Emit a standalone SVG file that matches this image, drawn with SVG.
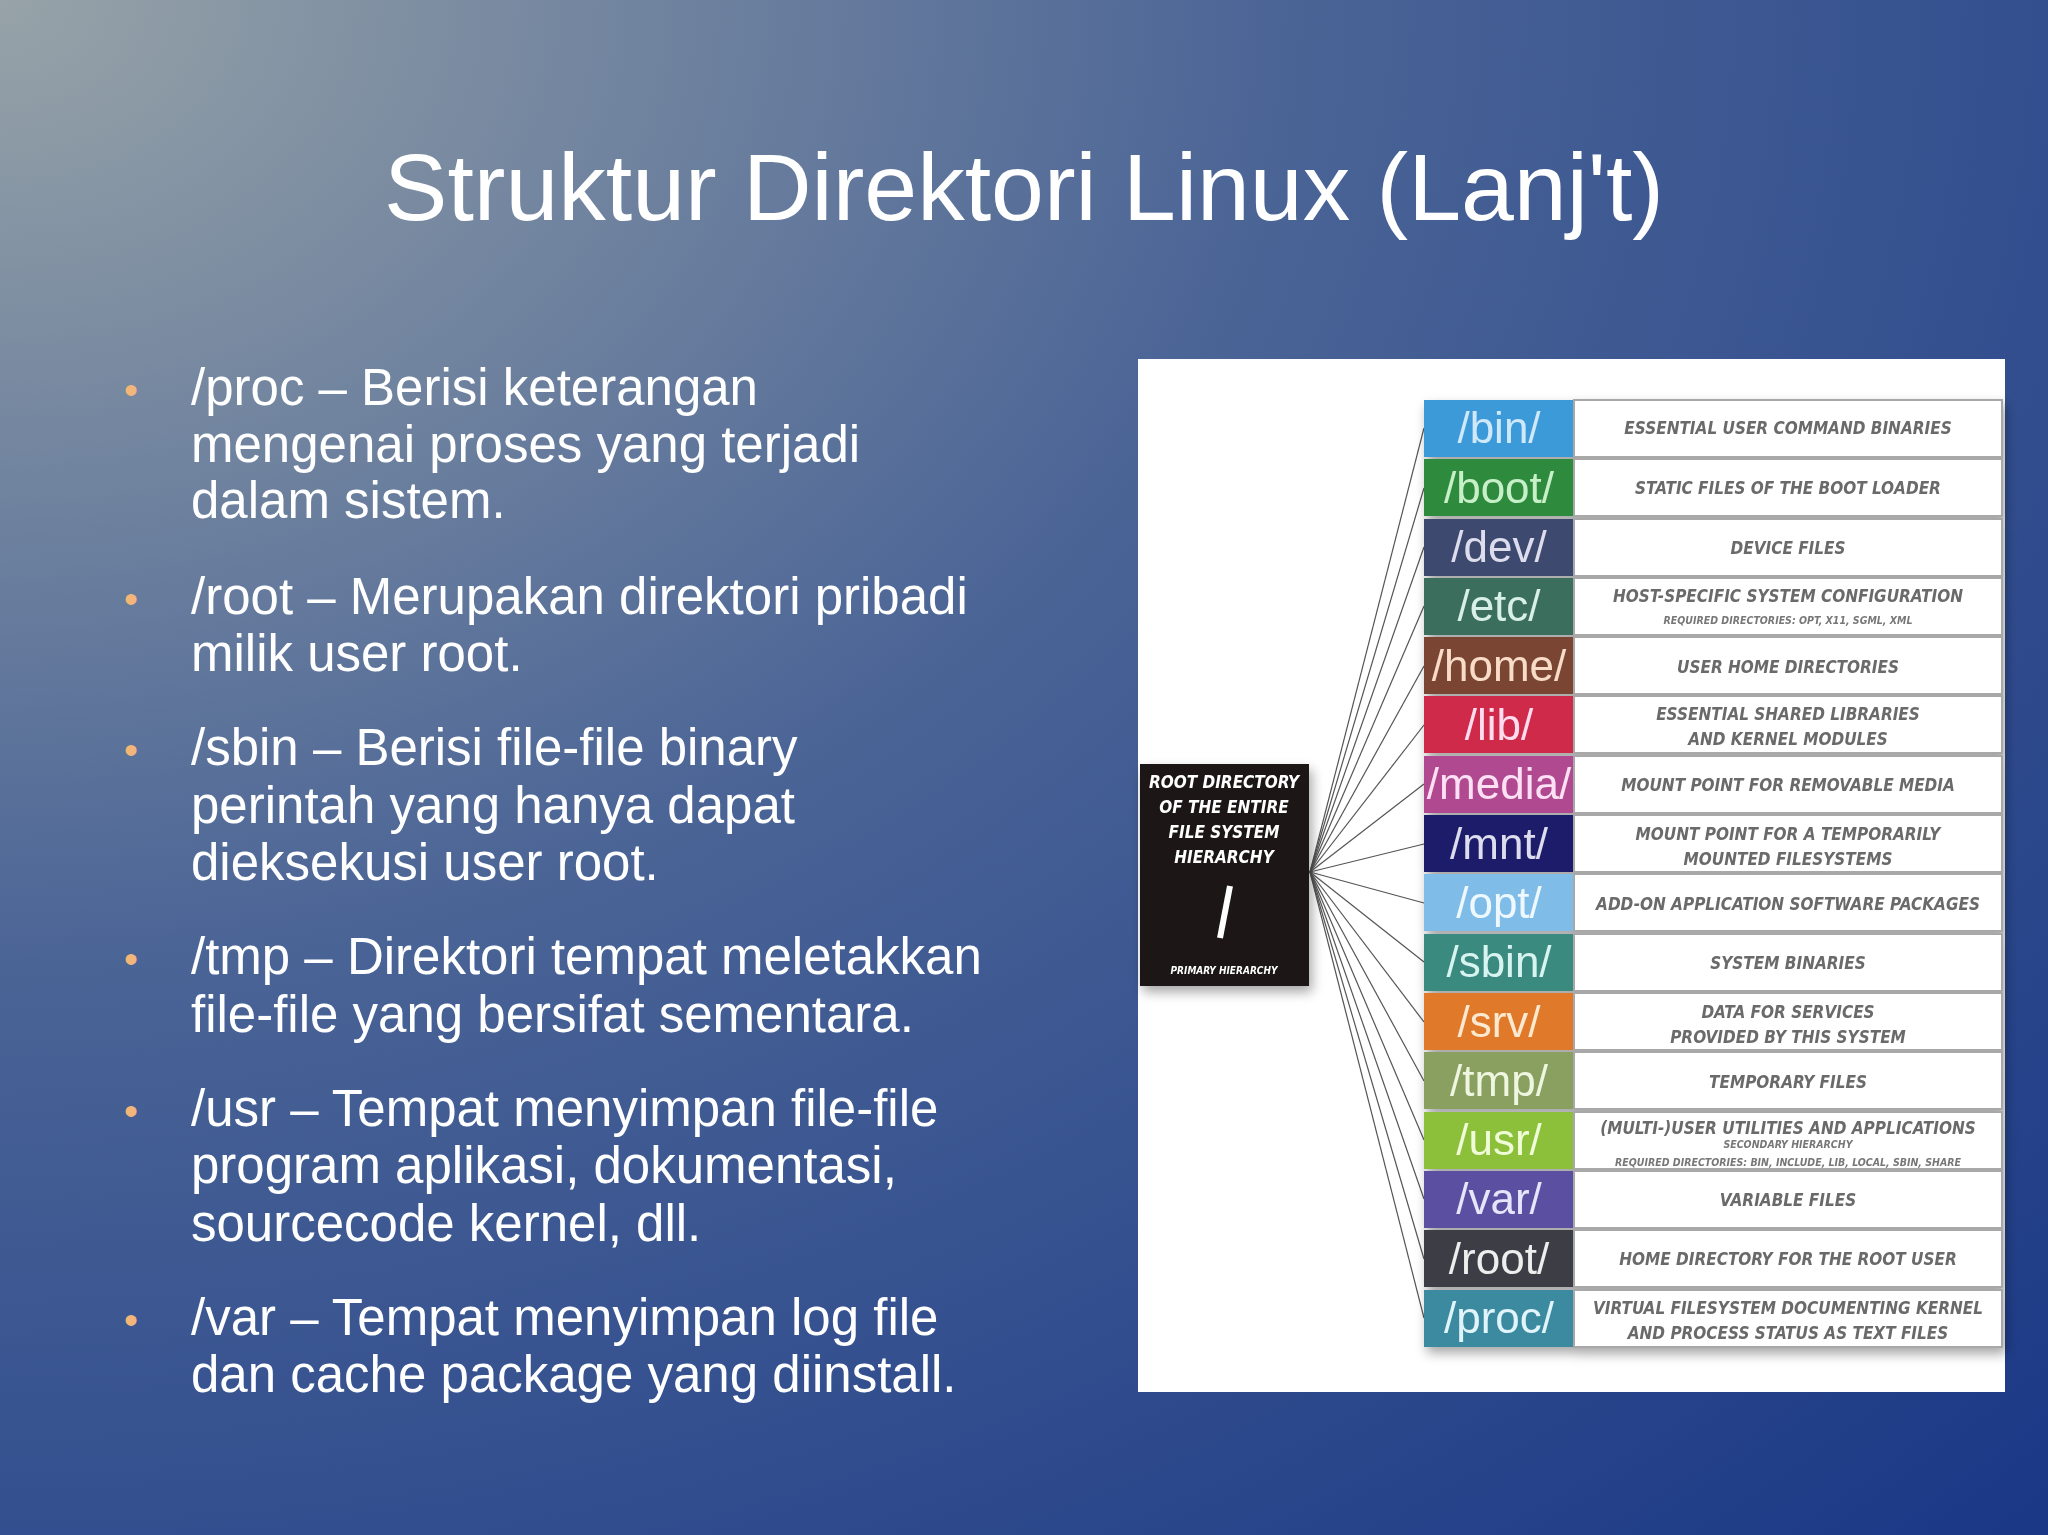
<svg xmlns="http://www.w3.org/2000/svg" width="2048" height="1535" viewBox="0 0 2048 1535">
<defs>
<radialGradient id="bg" cx="0" cy="0" r="1.4" gradientUnits="objectBoundingBox">
<stop offset="0" stop-color="#97a3a8"/>
<stop offset="0.45" stop-color="#4a6496"/>
<stop offset="1" stop-color="#1a3886"/>
</radialGradient>
<filter id="sh" x="-10%" y="-10%" width="120%" height="120%"><feDropShadow dx="3" dy="6" stdDeviation="6" flood-opacity="0.35"/></filter>
</defs>
<style>
.t{font-family:"Liberation Sans",Arial,sans-serif;fill:#fff}
.b{font-family:"Liberation Sans",Arial,sans-serif;fill:#f2b67a;font-size:40px}
.p{font-family:"Liberation Sans",Arial,sans-serif;font-size:44px;text-anchor:middle}
.d{font-family:"DejaVu Sans Condensed","DejaVu Sans",sans-serif;font-weight:bold;font-style:italic;fill:#6a6a6a;font-size:17px;text-anchor:middle}
.s{font-family:"DejaVu Sans Condensed","DejaVu Sans",sans-serif;font-weight:bold;font-style:italic;fill:#777;font-size:10.5px;text-anchor:middle}
.r{font-family:"DejaVu Sans Condensed","DejaVu Sans",sans-serif;font-weight:bold;font-style:italic;fill:#fff;font-size:17px;text-anchor:middle}
.r2{font-family:"DejaVu Sans Condensed","DejaVu Sans",sans-serif;font-weight:bold;font-style:italic;fill:#fff;font-size:10px;text-anchor:middle}
.w{fill:#fff;stroke:#a8a8a8;stroke-width:2}
.ln line{stroke:#555;stroke-width:1.2}
</style>
<rect width="2048" height="1535" fill="url(#bg)"/>
<text class="t" x="1024" y="220" font-size="95" text-anchor="middle">Struktur Direktori Linux (Lanj't)</text>
<g id="bullets" class="t" font-size="51">
<text class="b" x="124" y="404">•</text><text x="191" y="405">/proc – Berisi keterangan</text><text x="191" y="462">mengenai proses yang terjadi</text><text x="191" y="518">dalam sistem.</text>
<text class="b" x="124" y="613">•</text><text x="191" y="614">/root – Merupakan direktori pribadi</text><text x="191" y="671">milik user root.</text>
<text class="b" x="124" y="764">•</text><text x="191" y="765">/sbin – Berisi file-file binary</text><text x="191" y="823">perintah yang hanya dapat</text><text x="191" y="880">dieksekusi user root.</text>
<text class="b" x="124" y="973">•</text><text x="191" y="974">/tmp – Direktori tempat meletakkan</text><text x="191" y="1032">file-file yang bersifat sementara.</text>
<text class="b" x="124" y="1125">•</text><text x="191" y="1126">/usr – Tempat menyimpan file-file</text><text x="191" y="1183">program aplikasi, dokumentasi,</text><text x="191" y="1241">sourcecode kernel, dll.</text>
<text class="b" x="124" y="1334">•</text><text x="191" y="1335">/var – Tempat menyimpan log file</text><text x="191" y="1392">dan cache package yang diinstall.</text>
</g>
<rect x="1138" y="359" width="867" height="1033" fill="#fff"/>
<g id="connectors" class="ln">
<line x1="1310" y1="872" x2="1424" y2="428"/><line x1="1310" y1="872" x2="1424" y2="488"/><line x1="1310" y1="872" x2="1424" y2="547"/><line x1="1310" y1="872" x2="1424" y2="606"/><line x1="1310" y1="872" x2="1424" y2="666"/><line x1="1310" y1="872" x2="1424" y2="725"/><line x1="1310" y1="872" x2="1424" y2="784"/><line x1="1310" y1="872" x2="1424" y2="844"/><line x1="1310" y1="872" x2="1424" y2="903"/><line x1="1310" y1="872" x2="1424" y2="962"/><line x1="1310" y1="872" x2="1424" y2="1022"/><line x1="1310" y1="872" x2="1424" y2="1081"/><line x1="1310" y1="872" x2="1424" y2="1140"/><line x1="1310" y1="872" x2="1424" y2="1199"/><line x1="1310" y1="872" x2="1424" y2="1259"/><line x1="1310" y1="872" x2="1424" y2="1318"/>
</g>
<g id="root" filter="url(#sh)">
<rect x="1140" y="764" width="169" height="222" fill="#1a1616"/>
<text class="r" x="1224" y="788">ROOT DIRECTORY</text><text class="r" x="1224" y="813">OF THE ENTIRE</text><text class="r" x="1224" y="838">FILE SYSTEM</text><text class="r" x="1224" y="863">HIERARCHY</text>
<line x1="1230" y1="886" x2="1220" y2="938" stroke="#fff" stroke-width="6"/>
<text class="r2" x="1224" y="974">PRIMARY HIERARCHY</text>
</g>
<g id="rows" filter="url(#sh)">
<g id="bin"><rect x="1424" y="400" width="150" height="57" fill="#3d9ad8"/><rect class="w" x="1574" y="400" width="428" height="57"/><text class="p" x="1499" y="443" fill="#cfe8fa">/bin/</text><text class="d" x="1788" y="434">ESSENTIAL USER COMMAND BINARIES</text></g>
<g id="boot"><rect x="1424" y="459" width="150" height="57" fill="#2e8b3e"/><rect class="w" x="1574" y="459" width="428" height="57"/><text class="p" x="1499" y="503" fill="#c8f0c8">/boot/</text><text class="d" x="1788" y="494">STATIC FILES OF THE BOOT LOADER</text></g>
<g id="dev"><rect x="1424" y="519" width="150" height="57" fill="#3d4a6e"/><rect class="w" x="1574" y="519" width="428" height="57"/><text class="p" x="1499" y="562" fill="#dde">/dev/</text><text class="d" x="1788" y="554">DEVICE FILES</text></g>
<g id="etc"><rect x="1424" y="578" width="150" height="57" fill="#3a6e5c"/><rect class="w" x="1574" y="578" width="428" height="57"/><text class="p" x="1499" y="621" fill="#d8f0e8">/etc/</text><text class="d" x="1788" y="602">HOST-SPECIFIC SYSTEM CONFIGURATION</text><text class="s" x="1788" y="624">REQUIRED DIRECTORIES: OPT, X11, SGML, XML</text></g>
<g id="home"><rect x="1424" y="637" width="150" height="57" fill="#7a4430"/><rect class="w" x="1574" y="637" width="428" height="57"/><text class="p" x="1499" y="681" fill="#f8dcc8">/home/</text><text class="d" x="1788" y="673">USER HOME DIRECTORIES</text></g>
<g id="lib"><rect x="1424" y="696" width="150" height="57" fill="#cf2a4a"/><rect class="w" x="1574" y="696" width="428" height="57"/><text class="p" x="1499" y="740" fill="#fde">/lib/</text><text class="d" x="1788" y="720">ESSENTIAL SHARED LIBRARIES</text><text class="d" x="1788" y="745">AND KERNEL MODULES</text></g>
<g id="media"><rect x="1424" y="756" width="150" height="57" fill="#b04a90"/><rect class="w" x="1574" y="756" width="428" height="57"/><text class="p" x="1499" y="799" fill="#fde0f4">/media/</text><text class="d" x="1788" y="791">MOUNT POINT FOR REMOVABLE MEDIA</text></g>
<g id="mnt"><rect x="1424" y="815" width="150" height="57" fill="#1e1e6a"/><rect class="w" x="1574" y="815" width="428" height="57"/><text class="p" x="1499" y="859" fill="#dde">/mnt/</text><text class="d" x="1788" y="840">MOUNT POINT FOR A TEMPORARILY</text><text class="d" x="1788" y="865">MOUNTED FILESYSTEMS</text></g>
<g id="opt"><rect x="1424" y="874" width="150" height="57" fill="#7fbde8"/><rect class="w" x="1574" y="874" width="428" height="57"/><text class="p" x="1499" y="918" fill="#eef8ff">/opt/</text><text class="d" x="1788" y="910">ADD-ON APPLICATION SOFTWARE PACKAGES</text></g>
<g id="sbin"><rect x="1424" y="934" width="150" height="57" fill="#3a8a80"/><rect class="w" x="1574" y="934" width="428" height="57"/><text class="p" x="1499" y="977" fill="#d8f4f0">/sbin/</text><text class="d" x="1788" y="969">SYSTEM BINARIES</text></g>
<g id="srv"><rect x="1424" y="993" width="150" height="57" fill="#e07a2a"/><rect class="w" x="1574" y="993" width="428" height="57"/><text class="p" x="1499" y="1037" fill="#fde8d0">/srv/</text><text class="d" x="1788" y="1018">DATA FOR SERVICES</text><text class="d" x="1788" y="1043">PROVIDED BY THIS SYSTEM</text></g>
<g id="tmp"><rect x="1424" y="1052" width="150" height="57" fill="#8aa060"/><rect class="w" x="1574" y="1052" width="428" height="57"/><text class="p" x="1499" y="1096" fill="#eef6e0">/tmp/</text><text class="d" x="1788" y="1088">TEMPORARY FILES</text></g>
<g id="usr"><rect x="1424" y="1112" width="150" height="57" fill="#8cc03a"/><rect class="w" x="1574" y="1112" width="428" height="57"/><text class="p" x="1499" y="1155" fill="#f0fcd8">/usr/</text><text class="d" x="1788" y="1134">(MULTI-)USER UTILITIES AND APPLICATIONS</text><text class="s" x="1788" y="1148">SECONDARY HIERARCHY</text><text class="s" x="1788" y="1166">REQUIRED DIRECTORIES: BIN, INCLUDE, LIB, LOCAL, SBIN, SHARE</text></g>
<g id="var"><rect x="1424" y="1171" width="150" height="57" fill="#5a4fa0"/><rect class="w" x="1574" y="1171" width="428" height="57"/><text class="p" x="1499" y="1214" fill="#e8e4fa">/var/</text><text class="d" x="1788" y="1206">VARIABLE FILES</text></g>
<g id="rootdir"><rect x="1424" y="1230" width="150" height="57" fill="#3d3d44"/><rect class="w" x="1574" y="1230" width="428" height="57"/><text class="p" x="1499" y="1274" fill="#eee">/root/</text><text class="d" x="1788" y="1265">HOME DIRECTORY FOR THE ROOT USER</text></g>
<g id="proc"><rect x="1424" y="1290" width="150" height="57" fill="#3a8aa0"/><rect class="w" x="1574" y="1290" width="428" height="57"/><text class="p" x="1499" y="1333" fill="#e0f4fa">/proc/</text><text class="d" x="1788" y="1314">VIRTUAL FILESYSTEM DOCUMENTING KERNEL</text><text class="d" x="1788" y="1339">AND PROCESS STATUS AS TEXT FILES</text></g>
</g>
</svg>
